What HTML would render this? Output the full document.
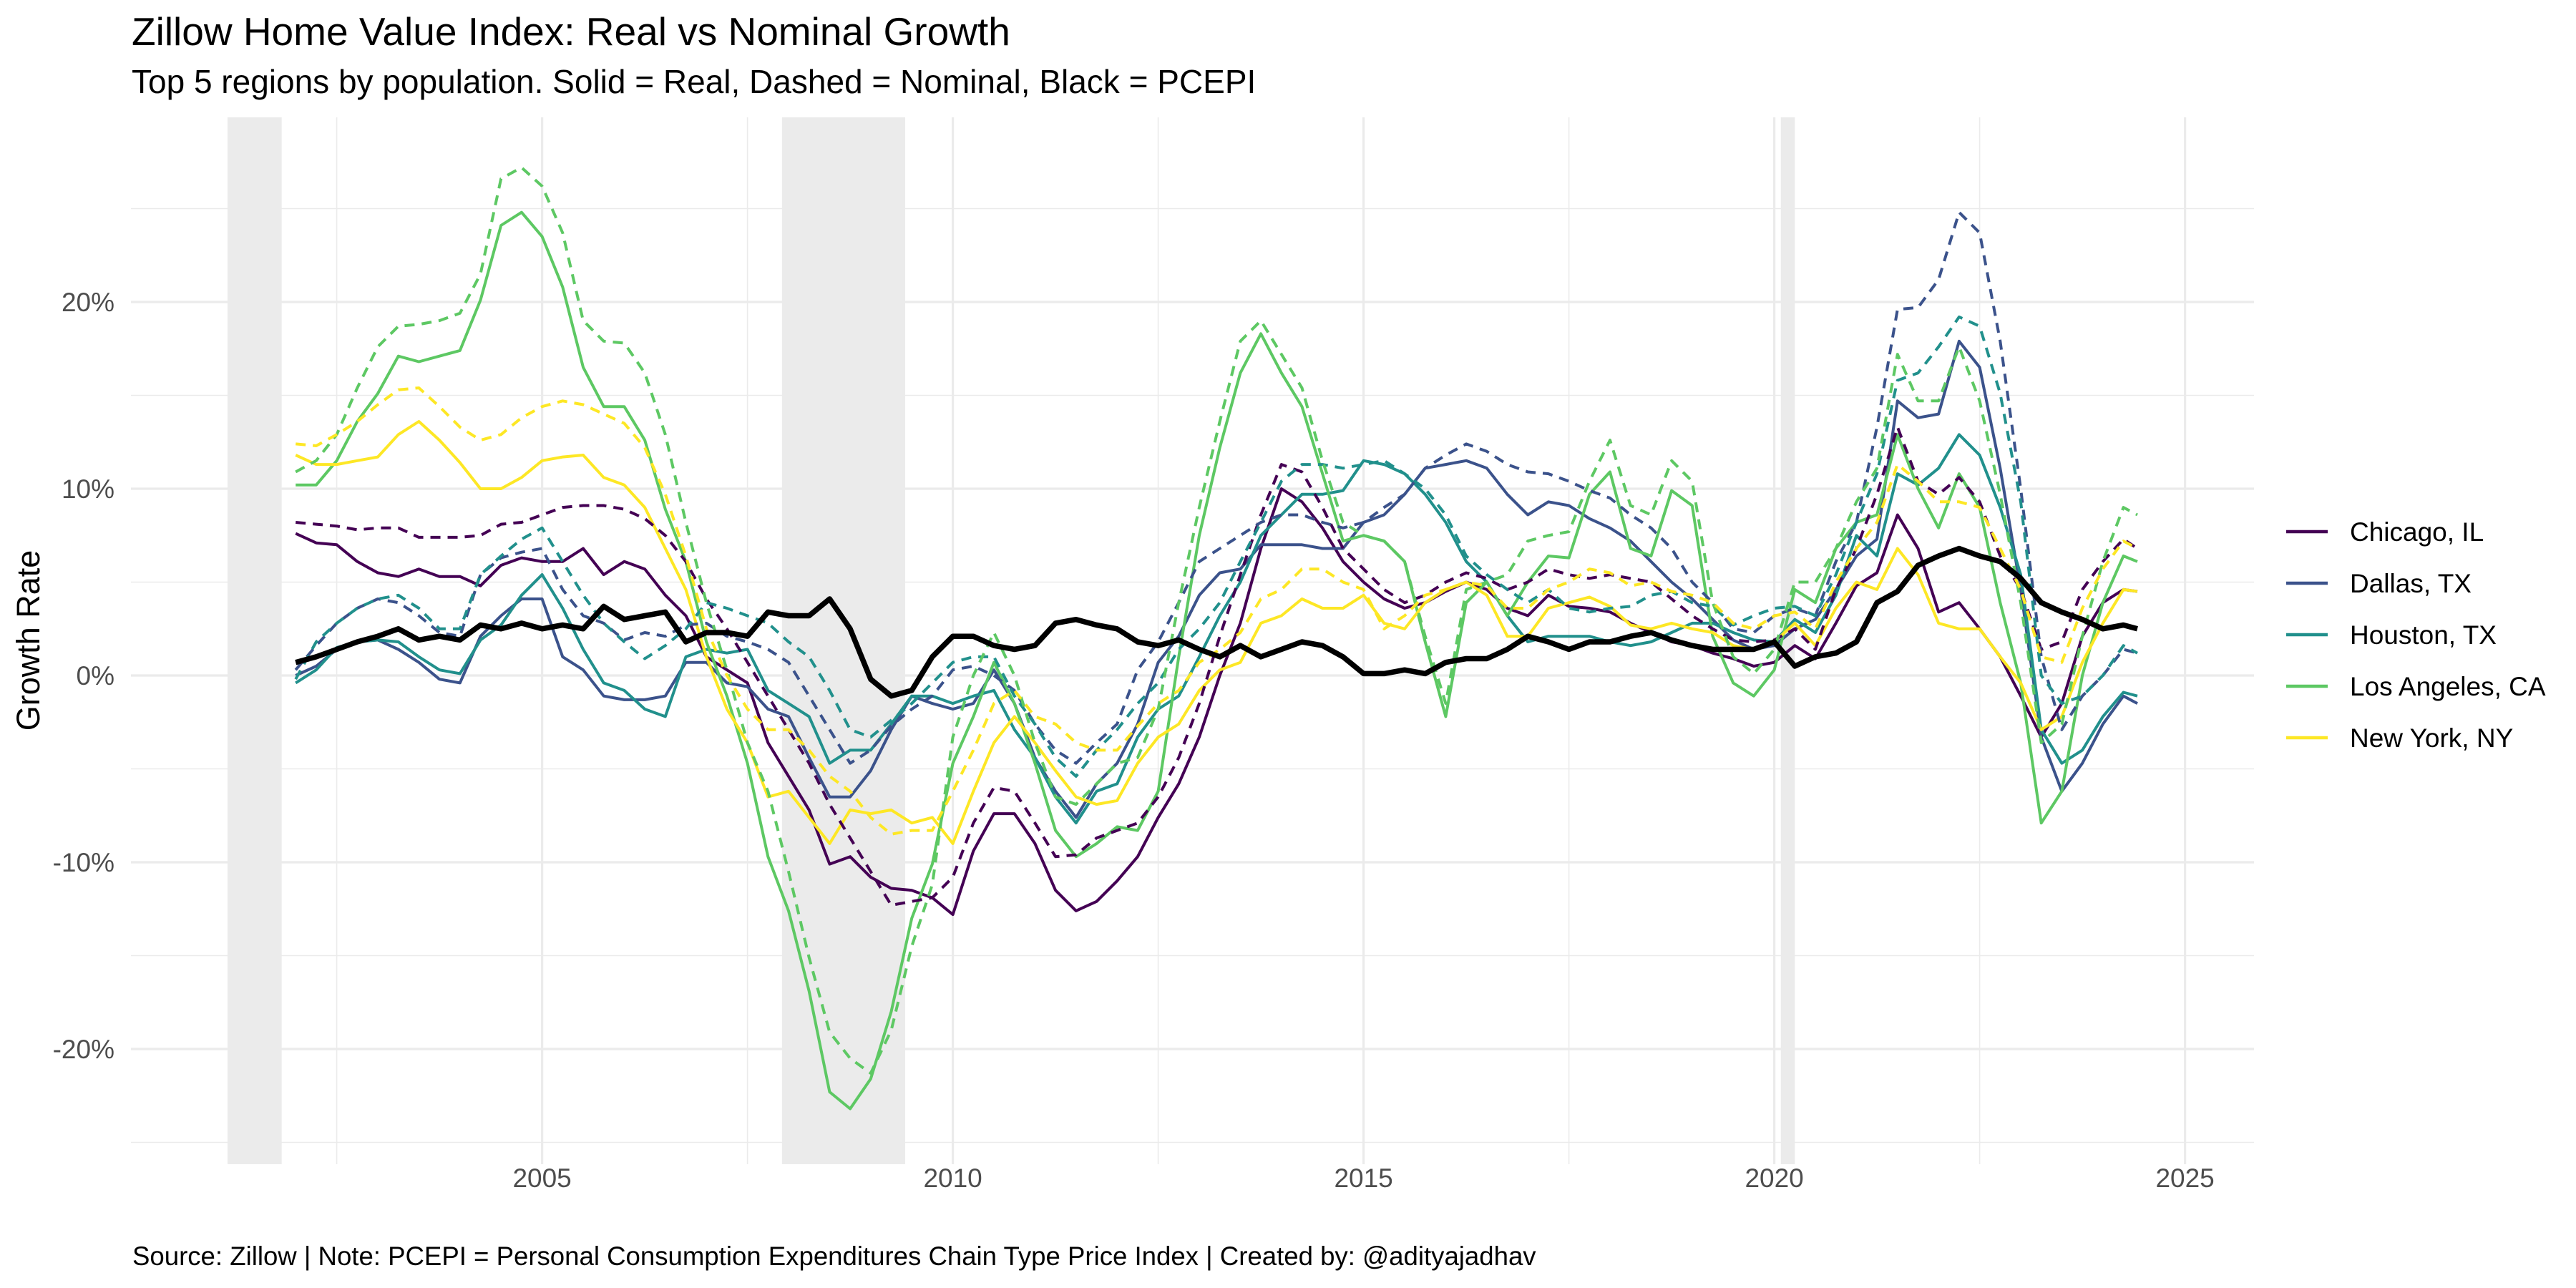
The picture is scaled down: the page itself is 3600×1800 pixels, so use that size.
<!DOCTYPE html>
<html><head><meta charset="utf-8">
<style>
html,body{margin:0;padding:0;background:#fff;}
svg{display:block;font-family:"Liberation Sans",Arial,sans-serif;}
</style></head>
<body>
<svg id="chart" width="3600" height="1800" viewBox="0 0 3600 1800" xmlns="http://www.w3.org/2000/svg">
<rect x="0" y="0" width="3600" height="1800" fill="#fff"/>
<g id="bands"></g>
<g id="grid"></g>
<g id="series"></g>
<g id="axes"></g>
<text x="184" y="63" font-size="55" fill="#000">Zillow Home Value Index: Real vs Nominal Growth</text>
<text x="184" y="130" font-size="46" fill="#000">Top 5 regions by population. Solid = Real, Dashed = Nominal, Black = PCEPI</text>
<text x="185" y="1768" font-size="36.6" fill="#000">Source: Zillow | Note: PCEPI = Personal Consumption Expenditures Chain Type Price Index | Created by: @adityajadhav</text>
<text transform="translate(55,895) rotate(-90)" text-anchor="middle" font-size="45" fill="#000">Growth Rate</text>
<g id="legend"></g>
</svg>
<script>
const years = [2002,2002.25,2002.5,2002.75,2003,2003.25,2003.5,2003.75,2004,2004.25,2004.5,2004.75,2005,2005.25,2005.5,2005.75,2006,2006.25,2006.5,2006.75,2007,2007.25,2007.5,2007.75,2008,2008.25,2008.5,2008.75,2009,2009.25,2009.5,
2009.75,2010,2010.25,2010.5,2010.75,2011,2011.25,2011.5,2011.75,2012,2012.25,2012.5,2012.75,2013,2013.25,2013.5,2013.75,2014,2014.25,2014.5,2014.75,2015,2015.25,2015.5,2015.75,2016,2016.25,2016.5,2016.75,2017,2017.25,
2017.5,2017.75,2018,2018.25,2018.5,2018.75,2019,2019.25,2019.5,2019.75,2020,2020.25,2020.5,2020.75,2021,2021.25,2021.5,2021.75,2022,2022.25,2022.5,2022.75,2023,2023.25,2023.5,2023.75,2024,2024.25,2024.42];

const regions = ["Chicago, IL","Dallas, TX","Houston, TX","Los Angeles, CA","New York, NY"];
const colors = ["#440154","#3B528B","#21908C","#5DC863","#FDE725"];

const chiReal = [7.6,7.1,7.0,6.1,5.5,5.3,5.7,5.3,5.3,4.8,5.9,6.3,6.1,6.1,6.8,5.4,6.1,5.7,4.3,3.2,1.0,0.3,-0.4,-3.6,-5.4,-7.2,-10.1,-9.7,-10.8,-11.4,-11.5,
-11.9,-12.8,-9.4,-7.4,-7.4,-9.0,-11.5,-12.6,-12.1,-11.0,-9.7,-7.6,-5.8,-3.3,0,2.8,6.8,10.0,9.3,7.9,6.1,5.0,4.1,3.6,3.9,4.5,5.0,4.6,3.6,3.2,4.3,
3.7,3.6,3.4,2.8,2.3,1.8,1.6,1.2,0.9,0.5,0.7,1.6,0.9,2.8,4.8,5.5,8.6,6.8,3.4,3.9,2.5,1.0,-1.1,-3.3,-1.5,2.1,3.9,4.6,4.5];
const chiNom = [8.2,8.1,8.0,7.8,7.9,7.9,7.4,7.4,7.4,7.5,8.1,8.2,8.6,9.0,9.1,9.1,8.9,8.4,7.5,6.1,4.1,2.5,0.7,-1.1,-2.9,-4.7,-6.9,-8.7,-10.5,-12.3,-12.1,
-11.9,-10.8,-7.9,-6.0,-6.2,-7.9,-9.7,-9.6,-8.7,-8.3,-7.9,-6.5,-4.4,-1.5,2.1,5.4,8.6,11.3,10.9,9.0,6.8,5.7,4.6,3.9,4.3,5.0,5.5,5.2,4.6,5.0,5.7,
5.4,5.2,5.4,5.2,5.0,4.1,3.2,2.5,1.9,1.8,1.9,2.5,1.4,4.6,6.8,9.7,13.3,10.4,9.7,10.6,9.3,6.4,4.6,1.4,1.8,4.6,6.1,7.3,6.8];
const dalReal = [0,0.5,1.4,1.8,1.9,1.4,0.7,-0.2,-0.4,2.1,3.2,4.1,4.1,1.0,0.3,-1.1,-1.3,-1.3,-1.1,0.7,0.7,-0.4,-0.6,-1.8,-2.2,-4.4,-6.5,-6.5,-5.1,-2.9,-1.1,
-1.5,-1.8,-1.5,0.3,-1.5,-4.4,-6.2,-7.6,-5.8,-4.7,-2.6,0.7,2.1,4.3,5.5,5.7,7.0,7.0,7.0,6.8,6.8,8.2,8.6,9.7,11.1,11.3,11.5,11.1,9.7,8.6,9.3,
9.1,8.4,7.9,7.2,6.1,5.0,4.1,3.0,1.9,1.4,1.6,2.5,3.0,4.6,6.4,7.3,14.7,13.8,14.0,17.9,16.5,11.1,4.6,-3.3,-6.2,-4.7,-2.6,-1.1,-1.5];
const dalNom = [0.3,1.6,2.8,3.6,4.1,3.9,3.2,2.3,2.1,5.4,6.3,6.6,6.8,4.6,3.2,2.8,1.9,2.3,2.1,2.7,2.8,2.1,1.8,1.4,0.7,-1.1,-2.9,-4.7,-4.0,-2.7,-1.8,
-1.1,0.3,0.5,0,-0.8,-2.6,-4.0,-4.7,-3.6,-2.6,0.3,1.8,3.9,6.1,6.8,7.5,8.2,8.6,8.6,8.2,7.9,8.2,9.0,9.7,11.1,11.8,12.4,12.0,11.3,10.9,10.8,
10.4,9.9,9.5,8.6,7.9,6.8,5.0,3.9,2.5,2.3,3.2,3.6,3.2,6.1,8.2,13.3,19.6,19.7,21.2,24.8,23.7,17.9,10.0,1.0,-2.9,-1.1,0,1.4,1.2];
const houReal = [-0.4,0.3,1.5,1.8,1.9,1.8,1.0,0.3,0.1,1.9,2.7,4.3,5.4,3.6,1.4,-0.4,-0.8,-1.8,-2.2,1.0,1.4,1.2,1.4,-0.8,-1.5,-2.2,-4.7,-4.0,-4.0,-2.6,-1.1,
-1.1,-1.5,-1.1,-0.8,-2.9,-4.4,-6.5,-7.9,-6.2,-5.8,-3.3,-1.8,-1.1,1.0,3.2,5.0,7.5,8.6,9.7,9.7,9.9,11.5,11.3,10.8,9.7,8.2,6.1,5.0,3.2,1.8,2.1,
2.1,2.1,1.8,1.6,1.8,2.3,2.8,2.8,2.3,1.9,1.8,3.0,2.3,4.3,7.5,6.4,10.8,10.2,11.1,12.9,11.8,9.0,5.4,-2.9,-4.7,-4.0,-2.2,-0.9,-1.1];
const houNom = [-0.2,1.8,2.8,3.6,4.1,4.3,3.6,2.5,2.5,5.4,6.4,7.3,7.9,6.1,4.3,2.8,1.8,0.9,1.6,2.5,3.9,3.6,3.2,2.8,1.8,1.0,-0.8,-2.9,-3.3,-2.4,-1.5,
-0.4,0.7,1.0,1.0,-1.1,-2.6,-4.4,-5.4,-4.0,-2.9,-1.5,-0.4,1.4,2.5,3.9,6.1,8.2,10.4,11.3,11.3,11.1,11.3,11.5,10.8,10.0,8.6,6.4,5.4,4.6,3.9,4.6,
3.6,3.4,3.6,3.7,4.3,4.5,3.9,3.7,2.7,3.2,3.6,3.7,3.2,5.4,8.2,10.8,15.8,16.2,17.6,19.2,18.7,15.1,9.3,0,-1.5,-1.1,0,1.6,1.2];
const laReal = [10.2,10.2,11.5,13.6,15.1,17.1,16.8,17.1,17.4,20.1,24.1,24.8,23.5,20.8,16.5,14.4,14.4,12.6,8.9,6.1,1.8,-1.1,-4.7,-9.7,-12.6,-16.9,-22.3,-23.2,-21.6,-18,-13.0,
-10.1,-4.7,-2.2,0.7,-1.5,-4.7,-8.3,-9.7,-9.0,-8.1,-8.3,-6.2,1.0,7.5,12.2,16.2,18.3,16.2,14.4,10.8,7.2,7.5,7.2,6.1,1.8,-2.2,3.9,5.0,3.2,5.0,6.4,
6.3,9.7,10.9,6.8,6.4,9.9,9.1,2.1,-0.4,-1.1,0.3,4.6,3.9,6.8,8.2,8.6,12.9,10.0,7.9,10.8,9.0,3.9,-0.4,-7.9,-6.2,0,3.9,6.4,6.1];
const laNom = [10.9,11.5,12.9,15.4,17.6,18.7,18.8,19.0,19.4,21.5,26.6,27.2,26.2,23.7,19.0,17.9,17.8,16.2,12.9,8.2,3.9,0.3,-3.6,-6.2,-10.5,-15.1,-19.1,-20.5,-21.3,-19,-14.5,
-11.2,-3.3,0,2.3,0,-3.6,-6.5,-6.9,-5.8,-4.7,-4.4,-1.8,3.9,9.0,13.6,17.9,19.0,17.2,15.4,11.5,8.2,7.5,7.2,6.1,2.1,-1.5,4.6,5.0,5.4,7.2,7.5,
7.7,10.4,12.6,9.1,8.6,11.5,10.4,3.9,1.0,0.1,1.4,5.0,5.0,6.8,9.3,11.1,17.2,14.7,14.7,17.6,14.7,9.7,3.9,-3.6,-2.6,2.1,6.1,9.0,8.6];
const nyReal = [11.8,11.3,11.3,11.5,11.7,12.9,13.6,12.6,11.4,10.0,10.0,10.6,11.5,11.7,11.8,10.6,10.2,9.0,6.8,4.6,1.0,-1.8,-3.6,-6.5,-6.2,-7.6,-9.0,-7.2,-7.4,-7.2,-7.9,
-7.6,-9.0,-6.2,-3.6,-2.2,-3.6,-5.1,-6.5,-6.9,-6.7,-4.7,-3.3,-2.6,-0.8,0.3,0.7,2.8,3.2,4.1,3.6,3.6,4.3,2.8,2.5,3.9,4.6,5.0,4.3,2.1,2.1,3.6,
3.9,4.2,3.7,2.7,2.5,2.8,2.5,2.3,1.6,1.4,1.8,2.8,1.6,3.6,5.0,4.6,6.8,5.4,2.8,2.5,2.5,1.0,-0.4,-2.9,-2.2,0.7,2.8,4.6,4.5];
const nyNom = [12.4,12.3,12.9,13.6,14.5,15.3,15.4,14.4,13.3,12.6,12.9,13.8,14.4,14.7,14.5,14.0,13.5,12.2,9.7,6.4,2.5,0.0,-1.8,-2.9,-2.9,-4.0,-5.4,-6.2,-7.6,-8.5,-8.3,
-8.3,-6.2,-4.0,-1.5,-0.8,-2.2,-2.6,-3.6,-4.0,-4.0,-2.7,-1.5,-0.8,0.7,1.4,2.3,4.1,4.6,5.7,5.7,5.0,4.6,2.5,3.2,4.3,4.6,5.0,4.8,3.6,3.6,4.6,
5.0,5.7,5.5,4.8,5.0,4.5,4.3,3.9,2.8,2.5,3.2,3.4,2.5,5.0,6.8,8.2,11.3,10.4,9.3,9.3,9.0,6.8,4.6,1.0,0.7,3.6,5.7,7.2,6.8];
const pcepi = [0.7,1.0,1.4,1.8,2.1,2.5,1.9,2.1,1.9,2.7,2.5,2.8,2.5,2.7,2.5,3.7,3.0,3.2,3.4,1.8,2.3,2.3,2.1,3.4,3.2,3.2,4.1,2.5,-0.2,-1.1,-0.8,
1.0,2.1,2.1,1.6,1.4,1.6,2.8,3.0,2.7,2.5,1.8,1.6,1.9,1.4,1.0,1.6,1.0,1.4,1.8,1.6,1.0,0.1,0.1,0.3,0.1,0.7,0.9,0.9,1.4,2.1,1.8,
1.4,1.8,1.8,2.1,2.3,1.9,1.6,1.4,1.4,1.4,1.8,0.5,1.0,1.2,1.8,3.9,4.5,5.9,6.4,6.8,6.4,6.1,5.2,3.9,3.4,3.0,2.5,2.7,2.5];

const recStart = [2001.17,2007.92,2020.08];
const recEnd = [2001.83,2009.42,2020.25];
const xTicks = [2005,2010,2015,2020,2025];
const xMinor = [2002.5,2007.5,2012.5,2017.5,2022.5];
const yTicks = [-20,-10,0,10,20];
const yTickLabels = ["-20%","-10%","0%","10%","20%"];
const yMinor = [-25,-15,-5,5,15,25];

const NS = "http://www.w3.org/2000/svg";
const PL = 183, PR = 3150, PT = 164, PB = 1627;
function xs(yr){ return 757.6 + (yr - 2005) * 114.8; }
function ys(v){ return 944 - v * 26.1; }
function mk(tag, attrs, parent){
  const e = document.createElementNS(NS, tag);
  for (const k in attrs) e.setAttribute(k, attrs[k]);
  parent.appendChild(e);
  return e;
}
const bands = document.getElementById('bands');
recStart.forEach((s,i)=>{
  const r = mk('rect',{x:xs(s),y:PT,width:xs(recEnd[i])-xs(s),height:PB-PT,fill:'#ebebeb'},bands);
  
  
});
const grid = document.getElementById('grid');
yMinor.forEach(v=>{
  const l = mk('line',{x1:PL,x2:PR,y1:ys(v),y2:ys(v),stroke:'#ebebeb','stroke-width':1.6},grid);
  
  
});
xMinor.forEach(v=>{
  const l = mk('line',{x1:xs(v),x2:xs(v),y1:PT,y2:PB,stroke:'#ebebeb','stroke-width':1.6},grid);
  
  
});
yTicks.forEach(v=>{
  const l = mk('line',{x1:PL,x2:PR,y1:ys(v),y2:ys(v),stroke:'#ebebeb','stroke-width':3.2},grid);
  
  
});
xTicks.forEach(v=>{
  const l = mk('line',{x1:xs(v),x2:xs(v),y1:PT,y2:PB,stroke:'#ebebeb','stroke-width':3.2},grid);
  
  
});
const axes = document.getElementById('axes');
xTicks.forEach(v=>{
  const t = mk('text',{x:xs(v),y:1659,'text-anchor':'middle','font-size':37,fill:'#4d4d4d'},axes);
  t.textContent = String(v);
  
  
});
yTicks.forEach((v,i)=>{
  const t = mk('text',{x:160,y:ys(v)+13,'text-anchor':'end','font-size':37,fill:'#4d4d4d'},axes);
  t.textContent = yTickLabels[i];
  
  
});
function pathD(vals){
  return vals.map((v,i)=>(i?'L':'M')+xs(years[i]).toFixed(1)+','+ys(v).toFixed(1)).join(' ');
}
const series = document.getElementById('series');
const realSets = [chiReal,dalReal,houReal,laReal,nyReal];
const nomSets = [chiNom,dalNom,houNom,laNom,nyNom];
realSets.forEach((vals,i)=>{
  const p = mk('path',{d:pathD(vals),fill:'none',stroke:colors[i],'stroke-width':4,'stroke-linejoin':'round'},series);
  
  
});
nomSets.forEach((vals,i)=>{
  const p = mk('path',{d:pathD(vals),fill:'none',stroke:colors[i],'stroke-width':4,'stroke-dasharray':'14 10','stroke-linejoin':'round'},series);
  
  
});
const pce = mk('path',{d:pathD(pcepi),fill:'none',stroke:'#000','stroke-width':7.5,'stroke-linejoin':'round'},series);



const legend = document.getElementById('legend');
regions.forEach((name,i)=>{
  const y = 743 + i * 72;
  const l = mk('line',{x1:3195,x2:3253,y1:y,y2:y,stroke:colors[i],'stroke-width':4.5},legend);
  
  
  const t = mk('text',{x:3284,y:y+13,'font-size':37,fill:'#000'},legend);
  t.textContent = name;
  
  
});
</script>
</body></html>
